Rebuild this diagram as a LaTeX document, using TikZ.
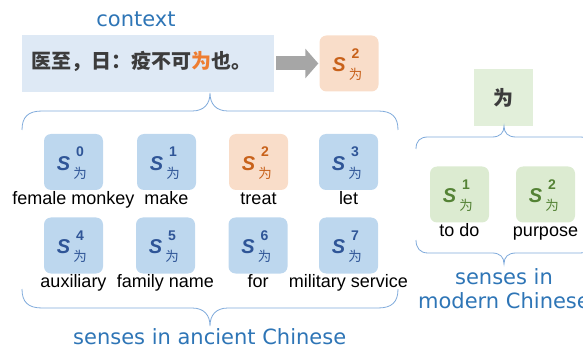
\documentclass[tikz,border=0pt]{standalone}
\usepackage{fontspec}
\setmainfont{Liberation Sans}
\newfontfamily\cjk{Noto Sans CJK SC}
\newfontfamily\djv{DejaVu Sans}
\newfontfamily\sbi{Liberation Sans Bold Italic}
\newfontfamily\sbd{Liberation Sans Bold}
\usetikzlibrary{arrows.meta}
\definecolor{ctxfill}{HTML}{DEE9F5}
\definecolor{bfill}{HTML}{BDD7EE}
\definecolor{btext}{HTML}{2F5597}
\definecolor{ofill}{HTML}{F9DDC9}
\definecolor{otext}{HTML}{C8611A}
\definecolor{ochar}{HTML}{EE7D31}
\definecolor{gfill}{HTML}{DCEBD1}
\definecolor{gtext}{HTML}{548235}
\definecolor{wfill}{HTML}{E2EFDA}
\definecolor{lblue}{HTML}{2E75B6}
\definecolor{brc}{HTML}{7FAADB}
\definecolor{arr}{HTML}{A6A6A6}
\definecolor{dk}{HTML}{3C3C3C}
\newcommand\sensebox[6]{%
  \node[sbox, fill=#4] (#1) at (#2,#3) {};
  \node[stxt, text=#5] (#1s) at ([shift={(-10,1.5)}]#1.center) {S};
  \node[supx, text=#5] (#1n) at ([shift={(6.5,-10)}]#1.center) {#6};
  \node[subx, text=#5] (#1w) at ([shift={(6.5,11)}]#1.center) {为};
}
\tikzset{
  sbox/.style={rounded corners=7pt, minimum width=59pt, minimum height=56pt, inner sep=0pt},
  stxt/.style={font=\sbi\fontsize{20}{20}\selectfont, inner sep=0pt},
  supx/.style={font=\sbd\fontsize{14}{14}\selectfont, inner sep=0pt},
  subx/.style={font=\cjk\fontsize{13.5}{13.5}\selectfont, inner sep=0pt},
  lab/.style={font=\fontsize{18}{18}\selectfont, text=black, inner sep=0pt, anchor=base},
  blab/.style={font=\djv\fontsize{21}{25}\selectfont, text=lblue, inner sep=0pt, anchor=base},
  brace/.style={draw=brc, line width=0.8pt},
}
\begin{document}
\begin{tikzpicture}[x=1pt,y=-1pt]
\useasboundingbox (0,0) rectangle (583,347);
\clip (0,0) rectangle (583,347);
% context
\node[blab] (ctxl) at (136,27) {context};
\node[fill=ctxfill, minimum width=252pt, minimum height=57pt, inner sep=0pt] (ctx) at (148,63.5) {};
\node[font=\cjk\bfseries\fontsize{20}{20}\selectfont, text=dk, inner sep=0pt] (ctxt) at (141.5,61) {医至，日：疫不可\textcolor{ochar}{为}也。};
\sensebox{top}{349}{63.5}{ofill}{otext}{2}
\draw[arr, line width=14pt, -{Triangle[width=29pt,length=13pt]}] ([xshift=2pt]ctx.east) -- ([xshift=-1pt]top.west);
% ancient senses
\sensebox{a0}{73.5}{162}{bfill}{btext}{0}
\sensebox{a1}{166.5}{162}{bfill}{btext}{1}
\sensebox{a2}{258.5}{162}{ofill}{otext}{2}
\sensebox{a3}{348.5}{162}{bfill}{btext}{3}
\sensebox{a4}{73.5}{245.5}{bfill}{btext}{4}
\sensebox{a5}{165.5}{245.5}{bfill}{btext}{5}
\sensebox{a6}{258}{245.5}{bfill}{btext}{6}
\sensebox{a7}{348.5}{245.5}{bfill}{btext}{7}
\node[lab] (l0) at ([yshift=-14pt]a0.south) {female monkey};
\node[lab] (l1) at ([yshift=-14pt]a1.south) {make};
\node[lab] (l2) at ([yshift=-14pt]a2.south) {treat};
\node[lab] (l3) at ([yshift=-14pt]a3.south) {let};
\node[lab] (l4) at ([yshift=-13.5pt]a4.south) {auxiliary};
\node[lab] (l5) at ([yshift=-13.5pt]a5.south) {family name};
\node[lab] (l6) at ([yshift=-13.5pt]a6.south) {for};
\node[lab] (l7) at ([yshift=-13.5pt]a7.south) {military service};
\draw[brace] (22,130) .. controls (22,117) and (28,111) .. (42,111) -- (192,111) .. controls (204,111) and (210,104) .. (210,93) .. controls (210,104) and (216,111) .. (228,111) -- (378,111) .. controls (392,111) and (398,117) .. (398,130);
\draw[brace] (22,289) .. controls (22,302) and (28,308) .. (42,308) -- (192,308) .. controls (204,308) and (210,315) .. (210,326) .. controls (210,315) and (216,308) .. (228,308) -- (378,308) .. controls (392,308) and (398,302) .. (398,289);
\node[blab] (anc) at (209.7,344.5) {senses in ancient Chinese};
% modern senses
\node[fill=wfill, minimum width=59pt, minimum height=57pt, inner sep=0pt, font=\cjk\bfseries\fontsize{20}{20}\selectfont, text=dk] (wei) at (503.5,97.5) {为};
\sensebox{m1}{459.5}{194.5}{gfill}{gtext}{1}
\sensebox{m2}{545.5}{194.5}{gfill}{gtext}{2}
\node[lab] (lm1) at ([yshift=-14pt]m1.south) {to do};
\node[lab] (lm2) at ([yshift=-14pt]m2.south) {purpose};
\draw[brace] (416,149) .. controls (416,141) and (420,137) .. (428,137) -- (492,137) .. controls (500,137) and (504,133) .. (504,126) .. controls (504,133) and (508,137) .. (516,137) -- (580,137) .. controls (588,137) and (592,141) .. (592,149);
\draw[brace] (416,240) .. controls (416,248) and (420,253) .. (428,253) -- (492,253) .. controls (500,253) and (504,257) .. (504,264) .. controls (504,257) and (508,253) .. (516,253) -- (580,253) .. controls (588,253) and (592,248) .. (592,240);
\node[blab] (mod1) at (504,284.3) {senses in};
\node[blab] (mod2) at (504,308) {modern Chinese};
\end{tikzpicture}
\end{document}
